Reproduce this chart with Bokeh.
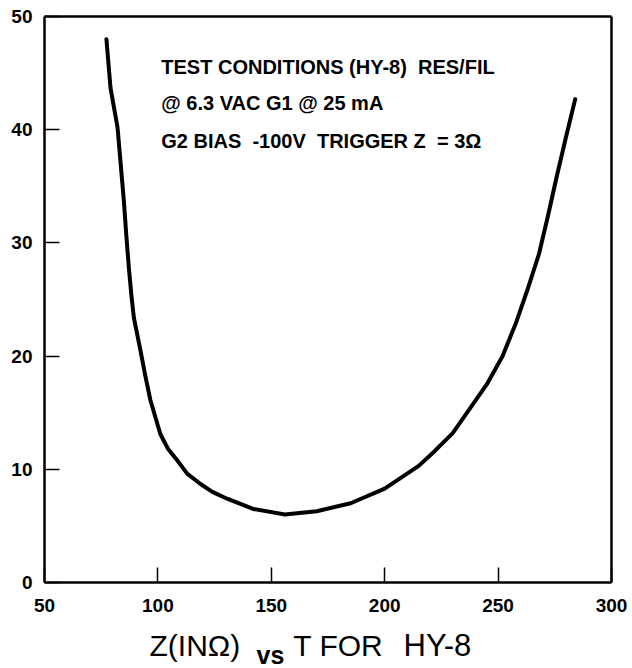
from bokeh.plotting import figure
from bokeh.models import Range1d, FixedTicker, Label, ColumnDataSource, LinearAxis
from bokeh.core.properties import value
from bokeh.embed import file_html
from bokeh.resources import INLINE

# Curve: T (x) vs Z in ohms (y)
t_vals = [77.3, 79.1, 82.2, 85.0, 86.1, 87.2, 88.3, 89.4, 92.3, 94.5, 96.7, 101.1, 104.5,
          108.5, 113.0, 118.8, 124.0, 130.5, 142.0, 156.0, 170.0, 185.0, 200.0, 215.0,
          222.0, 230.0, 237.0, 245.0, 252.0, 258.0, 263.0, 268.0, 272.0, 276.0, 280.0, 284.0]
z_vals = [48.0, 43.7, 40.2, 33.7, 30.6, 27.8, 25.4, 23.4, 20.5, 18.2, 16.1, 13.1, 11.8,
          10.8, 9.6, 8.7, 8.0, 7.4, 6.5, 6.0, 6.3, 7.0, 8.3, 10.3,
          11.6, 13.2, 15.2, 17.5, 20.0, 23.0, 25.9, 29.0, 32.4, 36.0, 39.4, 42.7]

x_ticks = [50, 100, 150, 200, 250, 300]
y_ticks = [0, 10, 20, 30, 40, 50]

NB = "\u00a0"
notes = ["TEST CONDITIONS (HY-8)" + NB + NB + "RES/FIL",
         "@ 6.3 VAC G1 @ 25 mA",
         "G2 BIAS" + NB + NB + "-100V" + NB + NB + "TRIGGER Z" + NB + NB + "= 3\u03a9"]
note_y = [45.5, 42.4, 39.0]

title_texts = ["Z(IN\u03a9)", "vs", "T FOR", "HY-8"]
title_x = [96.3, 143.5, 159.7, 208.3]
title_y = [-5.57, -6.40, -5.57, -5.57]
title_size = ["30px", "25px", "30px", "31px"]
title_style = ["normal", "bold", "normal", "normal"]

BW = 2.5
PX = 567 / 250.0   # pixels per x unit
PY = 566 / 50.0    # pixels per y unit
p = figure(frame_width=630, frame_height=668, output_backend="svg", toolbar_location=None,
           x_range=Range1d(50 - 44 / PX, 300 + 19 / PX),
           y_range=Range1d(-86 / PY, 50 + 16 / PY))
p.min_border = 0
p.background_fill_color = "white"
p.border_fill_color = "white"
p.grid.visible = False
p.outline_line_color = None

for ax, ticks in ((p.xaxis[0], x_ticks), (p.yaxis[0], y_ticks)):
    ax.ticker = FixedTicker(ticks=ticks)
    ax.axis_line_color = "black"
    ax.axis_line_width = BW
    ax.major_tick_in = 15
    ax.major_tick_out = 0
    ax.major_tick_line_width = 1.5
    ax.major_tick_line_color = "black"
    ax.minor_tick_line_color = None
    ax.minor_tick_out = 0
    ax.minor_tick_in = 0
    ax.major_label_text_font = "Liberation Sans"
    ax.major_label_text_font_style = "bold"
    ax.major_label_text_font_size = "19px"
    ax.major_label_text_color = "black"
p.xaxis[0].fixed_location = 0
p.xaxis[0].bounds = (50, 300)
p.xaxis[0].major_label_standoff = 16
p.yaxis[0].fixed_location = 50
p.yaxis[0].bounds = (0, 50)
p.yaxis[0].major_label_standoff = 12

# plain border lines on top and right
for loc, bnds, fl in (("above", (50, 300), 50), ("right", (0, 50), 300)):
    b = LinearAxis(ticker=FixedTicker(ticks=[]), bounds=bnds, axis_line_width=BW,
                   axis_line_color="black", major_tick_line_color=None,
                   minor_tick_line_color=None, major_tick_out=0, minor_tick_out=0,
                   major_label_text_font_size="0px", major_label_standoff=0,
                   fixed_location=fl)
    p.add_layout(b, loc)

p.line(t_vals, z_vals, line_color="black", line_width=4, line_join="round", line_cap="round")

for txt, yy in zip(notes, note_y):
    p.add_layout(Label(x=101.5, y=yy, text=txt, text_font="Liberation Sans",
                       text_font_style="bold", text_font_size="20px", text_color="black",
                       text_baseline="alphabetic"))

src = ColumnDataSource(dict(x=title_x, y=title_y, text=title_texts,
                            size=title_size, style=title_style))
p.text(x="x", y="y", text="text", source=src, text_font=value("Liberation Sans"),
       text_font_size="size", text_font_style="style", text_color="black",
       text_baseline="alphabetic", text_align="left")

open("out.html", "w").write(file_html(p, INLINE))
